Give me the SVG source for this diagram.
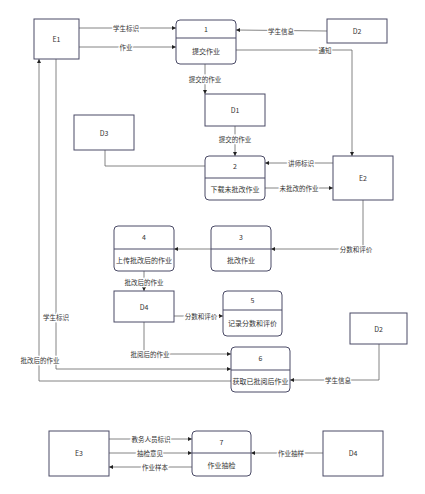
<svg xmlns="http://www.w3.org/2000/svg" width="425" height="494" viewBox="0 0 425 494">
<style>
.bx{fill:#fff;stroke:#4a4a66;stroke-width:1}
.dv{stroke:#4a4a66;stroke-width:1}
.ln{fill:none;stroke:#666;stroke-width:0.8}
.t{font-family:"Noto Sans CJK SC","Noto Sans",sans-serif;font-size:7px;fill:#333;text-anchor:middle;dominant-baseline:central}
.lb{font-family:"Noto Sans CJK SC","Noto Sans",sans-serif;font-size:6.5px;fill:#333;text-anchor:middle;dominant-baseline:central;stroke:#fff;stroke-width:2.5px;paint-order:stroke}
</style>
<defs>
<marker id="a" viewBox="0 0 6 6" refX="6" refY="3" markerWidth="4" markerHeight="4" markerUnits="userSpaceOnUse" orient="auto"><path d="M0,0L6,3L0,6z" fill="#222"/></marker>
</defs>
<rect width="425" height="494" fill="#fff"/>
<g id="connectors">
<path class="ln" d="M79,28H176" marker-end="url(#a)"/>
<path class="ln" d="M79,47H176" marker-end="url(#a)"/>
<path class="ln" d="M327,31L236,30" marker-end="url(#a)"/>
<path class="ln" d="M236,50H352V156" marker-end="url(#a)"/>
<path class="ln" d="M205,64V94" marker-end="url(#a)"/>
<path class="ln" d="M235,126V156" marker-end="url(#a)"/>
<path class="ln" d="M105,150V166H205"/>
<path class="ln" d="M333,163H265" marker-end="url(#a)"/>
<path class="ln" d="M265,188H333" marker-end="url(#a)"/>
<path class="ln" d="M363,200V249H271" marker-end="url(#a)"/>
<path class="ln" d="M211,249H174" marker-end="url(#a)"/>
<path class="ln" d="M144,271V291" marker-end="url(#a)"/>
<path class="ln" d="M174,316H223" marker-end="url(#a)"/>
<path class="ln" d="M144,322V354H231" marker-end="url(#a)"/>
<path class="ln" d="M56,59V369H231" marker-end="url(#a)"/>
<path class="ln" d="M231,381H39V59" marker-end="url(#a)"/>
<path class="ln" d="M379,344V380H290" marker-end="url(#a)"/>
<path class="ln" d="M109,439H192" marker-end="url(#a)"/>
<path class="ln" d="M109,453H192" marker-end="url(#a)"/>
<path class="ln" d="M192,467H109" marker-end="url(#a)"/>
<path class="ln" d="M323,453H251" marker-end="url(#a)"/>
<text class="lb" x="126" y="28">学生标识</text>
<text class="lb" x="126" y="47">作业</text>
<text class="lb" x="281" y="30.5">学生信息</text>
<text class="lb" x="325" y="50">通知</text>
<text class="lb" x="205" y="79">提交的作业</text>
<text class="lb" x="235" y="139">提交的作业</text>
<text class="lb" x="301" y="163">讲师标识</text>
<text class="lb" x="299" y="188">未批改的作业</text>
<text class="lb" x="356" y="249">分数和评价</text>
<text class="lb" x="144" y="282">批改后的作业</text>
<text class="lb" x="201" y="316">分数和评价</text>
<text class="lb" x="150" y="354">批阅后的作业</text>
<text class="lb" x="56" y="317">学生标识</text>
<text class="lb" x="40" y="360">批改后的作业</text>
<text class="lb" x="338" y="380">学生信息</text>
<text class="lb" x="151" y="439">教务人员标识</text>
<text class="lb" x="150" y="453">抽检意见</text>
<text class="lb" x="155" y="467">作业样本</text>
<text class="lb" x="291" y="453">作业抽样</text>
</g>
<g id="E1"><rect class="bx" x="34" y="19" width="45" height="40"/><text class="t" x="56.5" y="39">E1</text></g>
<g id="P1"><rect class="bx" x="176" y="20" width="60" height="44" rx="4"/><line class="dv" x1="176" y1="38" x2="236" y2="38"/><text class="t" x="206" y="29">1</text><text class="t" x="206" y="51">提交作业</text></g>
<g id="D2a"><rect class="bx" x="327" y="19" width="60" height="24"/><text class="t" x="357" y="31">D2</text></g>
<g id="D1"><rect class="bx" x="205" y="94" width="60" height="32"/><text class="t" x="235" y="110">D1</text></g>
<g id="D3"><rect class="bx" x="74" y="115" width="60" height="35"/><text class="t" x="104" y="132.5">D3</text></g>
<g id="P2"><rect class="bx" x="205" y="156" width="60" height="44" rx="4"/><line class="dv" x1="205" y1="178" x2="265" y2="178"/><text class="t" x="235" y="166">2</text><text class="t" x="235" y="189">下载未批改作业</text></g>
<g id="E2"><rect class="bx" x="333" y="156" width="60" height="44"/><text class="t" x="363" y="178">E2</text></g>
<g id="P4"><rect class="bx" x="114" y="226" width="60" height="45" rx="4"/><line class="dv" x1="114" y1="249" x2="174" y2="249"/><text class="t" x="144" y="237">4</text><text class="t" x="144" y="260">上传批改后的作业</text></g>
<g id="P3"><rect class="bx" x="211" y="226" width="60" height="45" rx="4"/><line class="dv" x1="211" y1="249" x2="271" y2="249"/><text class="t" x="241" y="237">3</text><text class="t" x="241" y="260">批改作业</text></g>
<g id="D4a"><rect class="bx" x="114" y="291" width="60" height="31"/><text class="t" x="144" y="306.5">D4</text></g>
<g id="P5"><rect class="bx" x="223" y="291" width="59" height="45" rx="4"/><line class="dv" x1="223" y1="310" x2="282" y2="310"/><text class="t" x="252.5" y="300">5</text><text class="t" x="252.5" y="323">记录分数和评价</text></g>
<g id="D2b"><rect class="bx" x="350" y="313" width="57" height="31"/><text class="t" x="378.5" y="328.5">D2</text></g>
<g id="P6"><rect class="bx" x="231" y="347" width="59" height="45" rx="4"/><line class="dv" x1="231" y1="370" x2="290" y2="370"/><text class="t" x="260.5" y="358">6</text><text class="t" x="260.5" y="381">获取已批阅后作业</text></g>
<g id="E3"><rect class="bx" x="49" y="431" width="60" height="45"/><text class="t" x="79" y="453">E3</text></g>
<g id="P7"><rect class="bx" x="192" y="431" width="59" height="45" rx="4"/><line class="dv" x1="192" y1="453" x2="251" y2="453"/><text class="t" x="221.5" y="442">7</text><text class="t" x="221.5" y="465">作业抽检</text></g>
<g id="D4b"><rect class="bx" x="323" y="431" width="60" height="45"/><text class="t" x="353" y="453">D4</text></g>
</svg>
